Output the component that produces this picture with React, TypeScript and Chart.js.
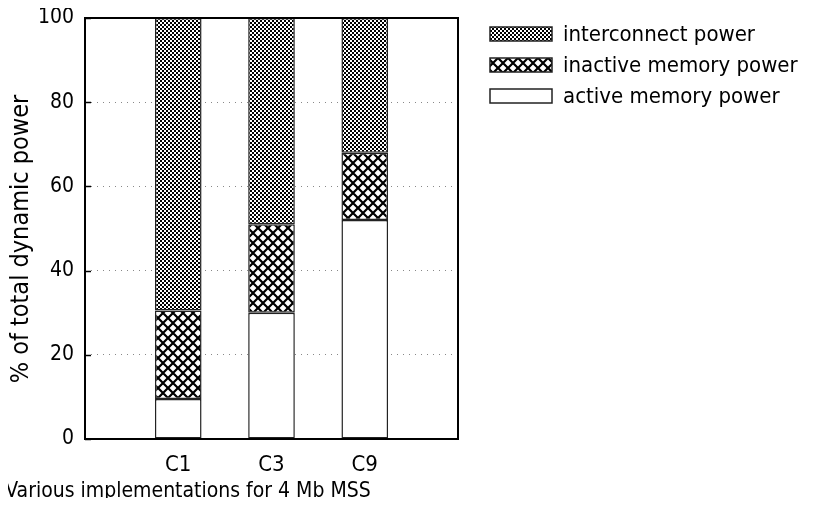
import React, { useEffect, useRef } from "react";
import { Chart, registerables } from "chart.js";

Chart.register(...registerables);

const categories = ["C1", "C3", "C9"];
const activeMemory = [9.5, 30, 52];
const inactiveMemory = [21, 21, 16];
const interconnect = [69.5, 49, 32];
const yTicks = [0, 20, 40, 60, 80, 100];
const seriesNames = ["active memory power", "inactive memory power", "interconnect power"];
const xTitle = "Various implementations for 4 Mb MSS";
const yTitle = "% of total dynamic power";

const FONT = "'DejaVu Sans Condensed', 'DejaVu Sans', sans-serif";

function makeFinePattern(): CanvasPattern | string {
  const c = document.createElement("canvas");
  c.width = 4;
  c.height = 4;
  const g = c.getContext("2d");
  if (!g) return "#888";
  g.fillStyle = "#fff";
  g.fillRect(0, 0, 4, 4);
  g.fillStyle = "#000";
  g.fillRect(0, 0, 2, 2);
  g.fillRect(2, 2, 2, 2);
  const p = g.createPattern(c, "repeat");
  return p || "#888";
}

function makeCrossPattern(): CanvasPattern | string {
  const s = 10;
  const c = document.createElement("canvas");
  c.width = s;
  c.height = s;
  const g = c.getContext("2d");
  if (!g) return "#888";
  g.fillStyle = "#fff";
  g.fillRect(0, 0, s, s);
  g.strokeStyle = "#000";
  g.lineWidth = 2.2;
  g.beginPath();
  g.moveTo(-2, -2);
  g.lineTo(s + 2, s + 2);
  g.moveTo(s + 2, -2);
  g.lineTo(-2, s + 2);
  g.stroke();
  const p = g.createPattern(c, "repeat");
  return p || "#888";
}

export default function App() {
  const ref = useRef<HTMLCanvasElement | null>(null);

  useEffect(() => {
    if (!ref.current) return;
    const fine = makeFinePattern();
    const cross = makeCrossPattern();
    const fills = ["#ffffff", cross, fine];
    const series = [activeMemory, inactiveMemory, interconnect];

    const datasets = series.map((vals, si) => ({
      label: seriesNames[si],
      data: vals.map((v, i) => ({ x: i + 1, y: v })),
      backgroundColor: fills[si] as any,
      borderColor: "#222",
      borderWidth: 1.5,
      borderSkipped: false as any,
      barPercentage: 0.5,
      categoryPercentage: 1.0,
    }));

    const framePlugin = {
      id: "frameAndLegend",
      afterDraw(chart: any) {
        const { ctx, chartArea } = chart;
        const yScale = chart.scales.y;
        ctx.save();
        // inward ticks on y axis
        ctx.strokeStyle = "#000";
        ctx.lineWidth = 1.5;
        yTicks.forEach((t) => {
          const py = Math.round(yScale.getPixelForValue(t)) + 0.5;
          ctx.beginPath();
          ctx.moveTo(chartArea.left, py);
          ctx.lineTo(chartArea.left + 6, py);
          ctx.stroke();
        });
        // frame
        ctx.lineWidth = 2;
        ctx.strokeStyle = "#000";
        ctx.strokeRect(chartArea.left, chartArea.top, chartArea.right - chartArea.left, chartArea.bottom - chartArea.top);

        // x title
        ctx.fillStyle = "#000";
        ctx.font = `21px ${FONT}`;
        ctx.textAlign = "center";
        ctx.textBaseline = "middle";
        ctx.fillText(xTitle, 180, 484);

        // y title
        ctx.save();
        ctx.translate(13, 231);
        ctx.rotate(-Math.PI / 2);
        ctx.font = `25px ${FONT}`;
        ctx.textAlign = "center";
        ctx.textBaseline = "middle";
        ctx.fillText(yTitle, 0, 0);
        ctx.restore();

        // legend (reverse order)
        const rows = [2, 1, 0];
        const boxX = 482;
        const boxW = 62;
        const boxH = 14;
        const rowY = [26, 57, 88];
        rows.forEach((si, r) => {
          const cy = rowY[r];
          ctx.fillStyle = fills[si] as any;
          ctx.fillRect(boxX, cy - boxH / 2, boxW, boxH);
          ctx.lineWidth = 1.5;
          ctx.strokeStyle = "#222";
          ctx.strokeRect(boxX, cy - boxH / 2, boxW, boxH);
          ctx.fillStyle = "#000";
          ctx.font = `22px ${FONT}`;
          ctx.textAlign = "left";
          ctx.textBaseline = "middle";
          ctx.fillText(seriesNames[si], 555, cy + 1);
        });
        ctx.restore();
      },
    };

    const chart = new Chart(ref.current, {
      type: "bar",
      data: { datasets: datasets as any },
      options: {
        animation: false,
        responsive: false,
        layout: { padding: { top: 10, right: 357, left: 0, bottom: 0 } },
        plugins: {
          legend: { display: false },
          tooltip: { enabled: false },
        },
        scales: {
          x: {
            type: "linear",
            stacked: true,
            offset: false,
            min: 0,
            max: 4,
            grid: { display: false, drawTicks: false, offset: false },
            border: { display: false },
            ticks: {
              stepSize: 1,
              padding: 13,
              color: "#000",
              font: { family: FONT, size: 22 },
              callback: (v: any) => categories[Number(v) - 1] ?? "",
              maxRotation: 0,
              autoSkip: false,
            },
            afterFit: (s: any) => {
              s.height = 59;
              s.paddingLeft = 0;
              s.paddingRight = 0;
            },
          },
          y: {
            stacked: true,
            min: 0,
            max: 100,
            grid: {
              color: (c: any) => (c.tick && (c.tick.value === 0 || c.tick.value === 100) ? "rgba(0,0,0,0)" : "#888"),
              lineWidth: 1,
              drawTicks: false,
            },
            border: { display: false, dash: [1, 5] } as any,
            ticks: {
              stepSize: 20,
              padding: 11,
              color: "#000",
              font: { family: FONT, size: 21 },
            },
            afterFit: (s: any) => {
              s.width = 77;
              s.paddingTop = 0;
              s.paddingBottom = 0;
            },
          },
        },
      },
      plugins: [framePlugin],
    });

    return () => chart.destroy();
  }, []);

  return <canvas ref={ref} width={807} height={490} style={{ display: "block" }} />;
}
